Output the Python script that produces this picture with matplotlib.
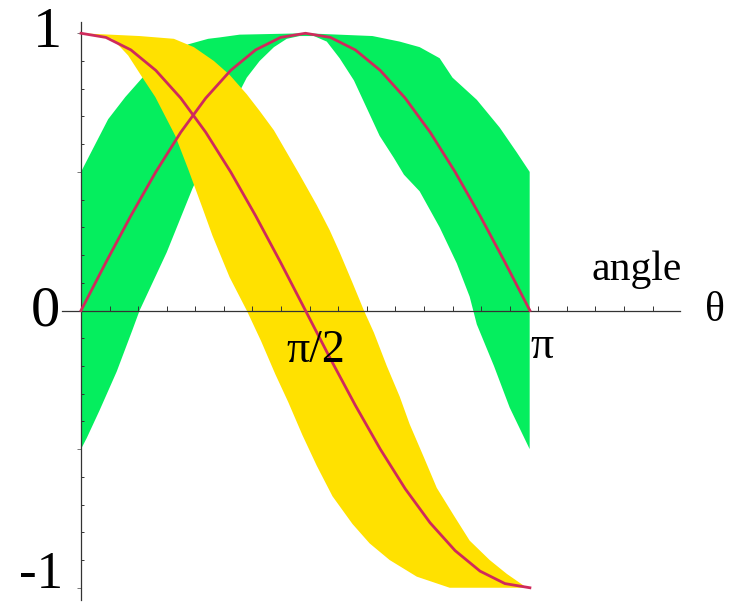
import numpy as np
import matplotlib
matplotlib.use('Agg')
import matplotlib.pyplot as plt

# courbes (theta en radians)
angles_deg = [0, 10, 20, 30, 40, 50, 60, 70, 80, 90, 100, 110, 120, 130, 140, 150, 160, 170, 180]
sin_vals = [0, 0.174, 0.342, 0.5, 0.643, 0.766, 0.866, 0.94, 0.985, 1.0,
            0.985, 0.94, 0.866, 0.766, 0.643, 0.5, 0.342, 0.174, 0]
cos_vals = [1.0, 0.985, 0.94, 0.866, 0.766, 0.643, 0.5, 0.342, 0.174, 0,
            -0.174, -0.342, -0.5, -0.643, -0.766, -0.866, -0.94, -0.985, -1.0]

# bande verte (bord haut / bord bas)
green_up_t = [0, 0.10, 0.19, 0.31, 0.43, 0.59, 0.75, 0.89, 0.97, 1.11, 1.57, 2.04, 2.23, 2.37, 2.51, 2.60, 2.77, 2.93, 3.05, 3.14]
green_up_y = [0.50, 0.60, 0.69, 0.77, 0.84, 0.91, 0.96, 0.98, 0.985, 0.995, 1.00, 0.99, 0.97, 0.95, 0.91, 0.84, 0.76, 0.66, 0.57, 0.50]
green_lo_t = [0, 0.04, 0.13, 0.25, 0.36, 0.41, 0.60, 0.78, 0.97, 1.16, 1.25, 1.35, 1.44, 1.53, 1.63, 1.72,
              1.81, 1.91, 2.00, 2.09, 2.19, 2.26, 2.37, 2.51, 2.63, 2.72, 2.77, 2.89, 3.00, 3.14]
green_lo_y = [-0.50, -0.46, -0.36, -0.22, -0.07, 0.00, 0.21, 0.44, 0.65, 0.84, 0.90, 0.95, 0.98, 0.99, 0.99, 0.97,
              0.91, 0.83, 0.73, 0.63, 0.55, 0.49, 0.43, 0.30, 0.17, 0.05, -0.05, -0.20, -0.35, -0.50]

# bande jaune (bord droit / bord gauche)
yellow_up_t = [0, 0.41, 0.65, 0.79, 0.93, 1.04, 1.16, 1.25, 1.35, 1.44, 1.53, 1.65, 1.74, 1.81, 1.90, 1.98,
               2.05, 2.14, 2.23, 2.30, 2.40, 2.49, 2.61, 2.72, 2.86, 2.98, 3.12, 3.14]
yellow_up_y = [1.00, 0.99, 0.98, 0.95, 0.90, 0.85, 0.78, 0.72, 0.65, 0.57, 0.49, 0.38, 0.29, 0.21, 0.10, 0.00,
               -0.08, -0.20, -0.31, -0.41, -0.53, -0.64, -0.74, -0.83, -0.90, -0.95, -1.00, -1.00]
yellow_lo_t = [0, 0.22, 0.33, 0.43, 0.52, 0.59, 0.66, 0.75, 0.85, 0.92, 1.04, 1.16, 1.26, 1.36, 1.45, 1.55,
               1.65, 1.76, 1.90, 2.02, 2.16, 2.35, 2.58, 2.77, 3.02, 3.14]
yellow_lo_y = [1.00, 0.98, 0.92, 0.84, 0.77, 0.70, 0.63, 0.51, 0.37, 0.27, 0.12, 0.00, -0.11, -0.23, -0.33, -0.45,
               -0.56, -0.67, -0.77, -0.84, -0.90, -0.96, -1.00, -1.00, -1.00, -1.00]

vert = '#05ee5e'
jaune = '#ffe100'
rouge = '#cf2a5c'

plt.rcParams['font.family'] = ['Liberation Serif', 'DejaVu Serif']

fig = plt.figure(figsize=(7.33, 6.03), dpi=100)
ax = fig.add_axes([0, 0, 1, 1])
ax.set_xlim(-0.567, 4.563)
ax.set_ylim(-1.055, 1.120)

ax.fill(np.concatenate([green_up_t, green_lo_t[::-1]]),
        np.concatenate([green_up_y, green_lo_y[::-1]]),
        color=vert, lw=0, zorder=1)
ax.fill(np.concatenate([yellow_up_t, yellow_lo_t[::-1]]),
        np.concatenate([yellow_up_y, yellow_lo_y[::-1]]),
        color=jaune, lw=0, zorder=1.5)

theta = np.radians(angles_deg)
ax.plot(theta, sin_vals, color=rouge, lw=2.0, zorder=3)
ax.plot(theta, cos_vals, color=rouge, lw=2.0, zorder=3)

# axes
for s in ['top', 'right']:
    ax.spines[s].set_visible(False)
ax.spines['left'].set_position(('data', 0))
ax.spines['bottom'].set_position(('data', 0))
ax.spines['left'].set_bounds(-1.045, 1.04)
ax.spines['bottom'].set_bounds(-0.13, 4.19)
for s in ['left', 'bottom']:
    ax.spines[s].set_color('#333333')
    ax.spines[s].set_linewidth(0.9)

ax.set_xticks(np.arange(0.2, 4.01, 0.2))
ax.tick_params(axis='x', direction='in', length=3.5, width=0.7, color='#333333', labelbottom=False)
ax.set_yticks([-1, -0.5, 0.5, 1])
ax.set_yticks(np.arange(-1, 1.01, 0.1), minor=True)
ax.tick_params(axis='y', which='major', direction='out', length=3, width=0.7, color='#777777', labelleft=False)
ax.tick_params(axis='y', which='minor', direction='in', length=2.5, width=0.7, color='#333333')

# textes
ax.text(-0.13, 1.0, '1', fontsize=42, ha='right', va='center')
ax.text(-0.15, -0.005, '0', fontsize=42, ha='right', va='center')
ax.text(-0.125, -0.955, '-1', fontsize=38, ha='right', va='center')
ax.text(1.645, -0.145, 'π/2', fontsize=33, ha='center', va='center')
ax.text(3.225, -0.13, 'π', fontsize=33, ha='center', va='center')
ax.text(4.44, 0.0, 'θ', fontsize=30, ha='center', va='center')
ax.text(3.89, 0.11, 'angle', fontsize=30, ha='center', va='baseline')

fig.savefig('out.png', dpi=100)
